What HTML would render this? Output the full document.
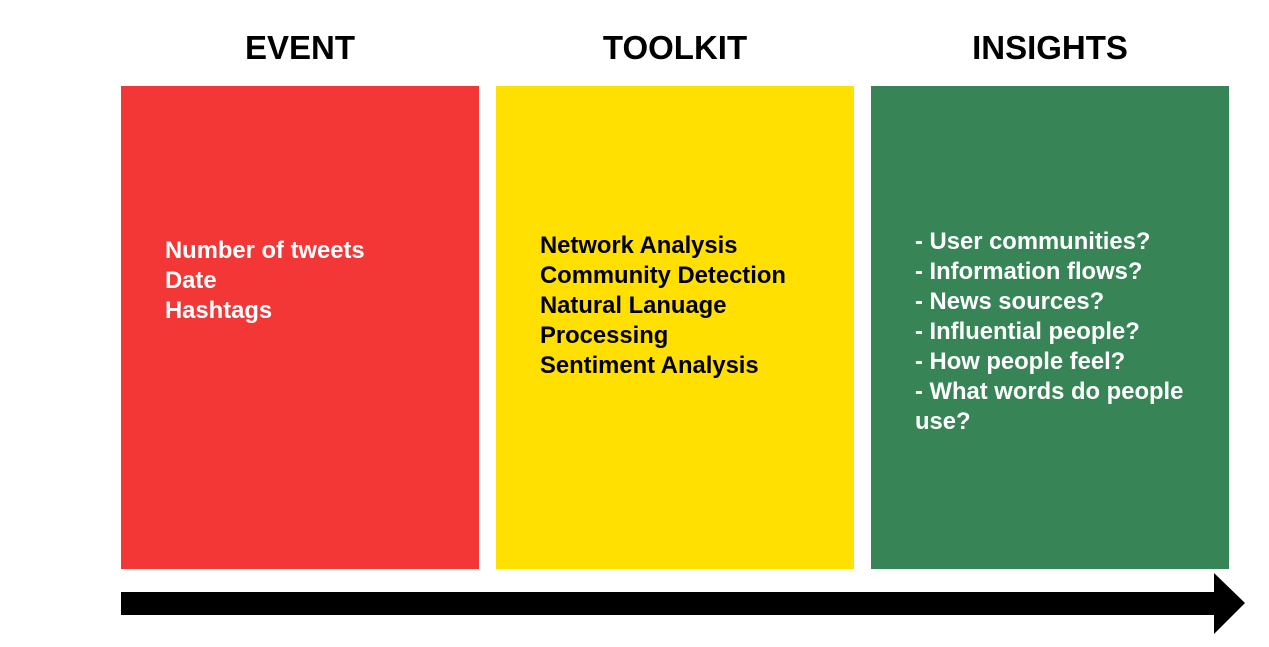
<!DOCTYPE html>
<html><head><style>
body{margin:0;width:1269px;height:647px;background:#fff;position:relative;overflow:hidden;font-family:"Liberation Sans",sans-serif;font-weight:bold}
.h{position:absolute;top:29px;width:358px;text-align:center;font-size:33px;color:#000}
.b{position:absolute;top:86px;width:358px;height:483px}
.t{position:absolute;font-size:23.8px;line-height:30px}
</style></head><body>
<div class="h" style="left:121px">EVENT</div>
<div class="h" style="left:496px">TOOLKIT</div>
<div class="h" style="left:871px">INSIGHTS</div>
<div class="b" style="left:121px;background:#F33636"></div>
<div class="b" style="left:496px;background:#FFE000"></div>
<div class="b" style="left:871px;background:#378556"></div>
<div class="t" style="left:165px;top:236px;color:#fff">Number of tweets<br>Date<br>Hashtags</div>
<div class="t" style="left:540px;top:231px;color:#000;width:300px">Network Analysis<br>Community Detection<br>Natural Lanuage<br>Processing<br>Sentiment Analysis</div>
<div class="t" style="left:915px;top:227px;color:#fff;width:310px">- User communities?<br>- Information flows?<br>- News sources?<br>- Influential people?<br>- How people feel?<br>- What words do people<br>use?</div>
<svg style="position:absolute;left:0;top:0" width="1269" height="647"><rect x="121" y="592" width="1094" height="23" fill="#000"/><polygon points="1214,573 1245,603 1214,634" fill="#000"/></svg>
</body></html>
